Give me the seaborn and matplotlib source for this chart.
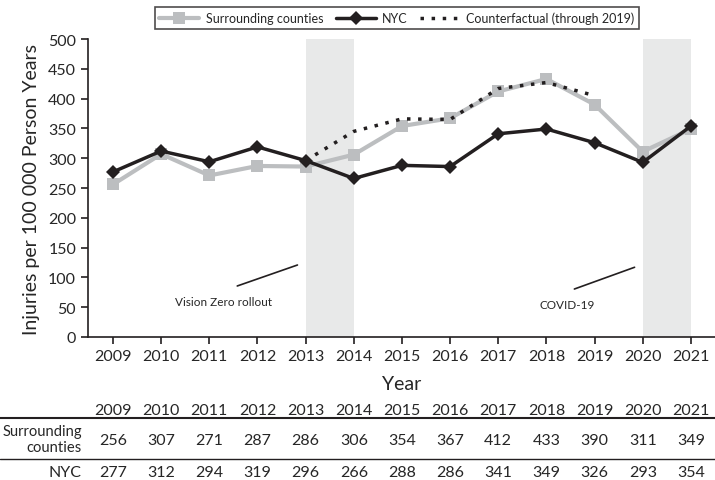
import numpy as np
import pandas as pd
import matplotlib
matplotlib.use("Agg")
import matplotlib.pyplot as plt
from matplotlib.lines import Line2D
from matplotlib.transforms import blended_transform_factory
import seaborn as sns

# Data
years = [2009, 2010, 2011, 2012, 2013, 2014, 2015, 2016, 2017, 2018, 2019, 2020, 2021]
surrounding = [256, 307, 271, 287, 286, 306, 354, 367, 412, 433, 390, 311, 349]
nyc = [277, 312, 294, 319, 296, 266, 288, 286, 341, 349, 326, 293, 354]
cf_years = [2013, 2014, 2015, 2016, 2017, 2018, 2019]
counterfactual = [296, 345, 366, 365, 417, 427, 405]
shaded = [(2013, 2014), (2020, 2021)]

sns.set_style("ticks")
plt.rcParams['font.family'] = ['Lato', 'DejaVu Sans']

GRAY = "#bcbec0"
BLACK = "#231f20"

fig = plt.figure(figsize=(7.15, 4.81), dpi=100)
ax = fig.add_axes([0.123, 0.2973, 0.877, 0.6195])

for a, b in shaded:
    ax.axvspan(a, b, color="#e8e9e9", lw=0, zorder=0)

sns.lineplot(x=years, y=surrounding, ax=ax, color=GRAY, lw=3, marker="s",
             markersize=8, markeredgewidth=0, label="Surrounding counties", zorder=2)
sns.lineplot(x=years, y=nyc, ax=ax, color=BLACK, lw=2.5, marker="D",
             markersize=7, markeredgewidth=0, label="NYC", zorder=3)
sns.lineplot(x=cf_years, y=counterfactual, ax=ax, color=BLACK, lw=2.5,
             linestyle=(0, (1, 2.2)), label="Counterfactual (through 2019)", zorder=4)

ax.set_xlim(2008.48, 2021.5)
ax.set_ylim(0, 500)
ax.set_xticks(years)
ax.set_yticks(range(0, 501, 50))
ax.tick_params(axis="both", labelsize=11.5, direction="out", length=5, width=1.2, color=BLACK)
for s in ["top", "right"]:
    ax.spines[s].set_visible(False)
for s in ["left", "bottom"]:
    ax.spines[s].set_linewidth(1.2)
    ax.spines[s].set_color(BLACK)
ax.set_xlabel("Year", fontsize=14, labelpad=9)
ax.set_ylabel("Injuries per 100 000 Person Years", fontsize=14, labelpad=6)

# annotations
ax.plot([2011.58, 2012.83], [85.6, 120.8], color=BLACK, lw=1.2)
ax.text(2011.29, 60, "Vision Zero rollout", ha="center", va="center", fontsize=8.5)
ax.plot([2018.58, 2019.83], [80.5, 117], color=BLACK, lw=1.2)
ax.text(2018.44, 55, "COVID-19", ha="center", va="center", fontsize=8.5)

leg = ax.legend(loc="upper center", bbox_to_anchor=(397 / 715, 1 - 2 / 481),
                bbox_transform=fig.transFigure, ncol=3, frameon=True, fancybox=False,
                fontsize=9, handlelength=3.2, handletextpad=0.5, columnspacing=1.0,
                borderpad=0.35)
leg.get_frame().set_edgecolor(BLACK)
leg.get_frame().set_linewidth(1.2)

# table below
tr = blended_transform_factory(ax.transData, fig.transFigure)
def fy(py):
    return 1 - py / 481

for yr in years:
    ax.text(yr, fy(411), str(yr), transform=tr, ha="center", va="center", fontsize=11.5)
for yr, v in zip(years, surrounding):
    ax.text(yr, fy(441), str(v), transform=tr, ha="center", va="center", fontsize=11.5)
for yr, v in zip(years, nyc):
    ax.text(yr, fy(473), str(v), transform=tr, ha="center", va="center", fontsize=11.5)
fig.text(82 / 715, fy(440), "Surrounding\ncounties", ha="right", va="center",
         fontsize=10.6, linespacing=1.1, multialignment="right")
fig.text(82 / 715, fy(473), "NYC", ha="right", va="center", fontsize=11.5)
for py, lw in [(419, 1.5), (460, 1.0)]:
    fig.add_artist(Line2D([0, 1], [fy(py), fy(py)], color=BLACK, lw=lw))

fig.savefig("out.png", dpi=100)
